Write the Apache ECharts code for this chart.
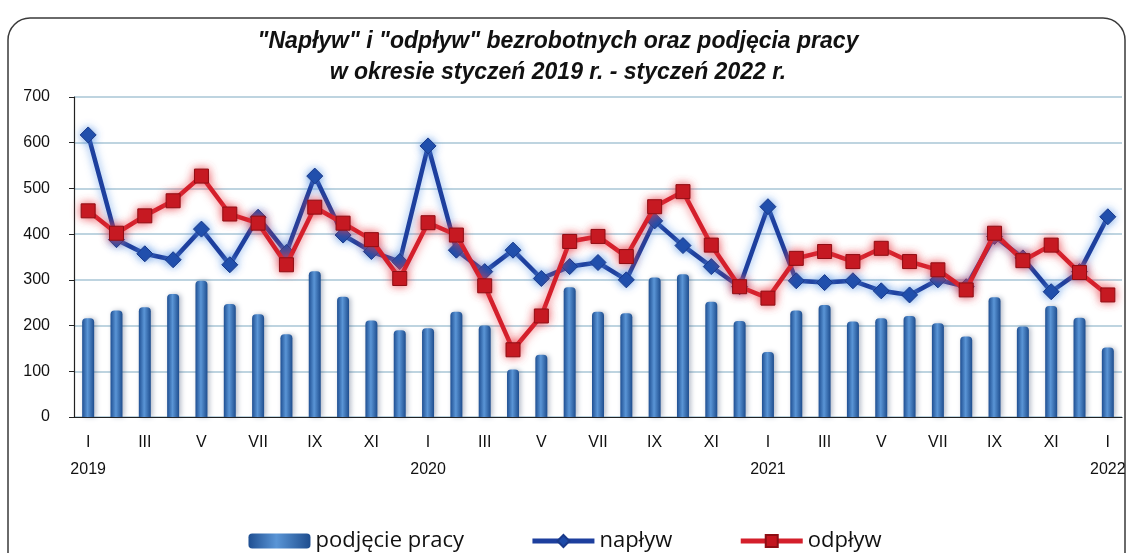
<!DOCTYPE html>
<html><head><meta charset="utf-8">
<script src="https://cdn.jsdelivr.net/npm/echarts@6/dist/echarts.min.js"></script>
<style>html,body{margin:0;padding:0;background:#fff}#c{width:1130px;height:553px}</style>
</head><body><div id="c"></div>
<script>
const roman = ['I','II','III','IV','V','VI','VII','VIII','IX','X','XI','XII'];
const years = ['2019','2020','2021','2022'];
const categories = [];
for (let i = 0; i < 37; i++) categories.push(roman[i % 12] + (i % 12 === 0 ? '\n' + years[i / 12] : ''));
const podjecie = [216,233,240,269,298,247,225,181,319,263,211,190,194,
  230,200,104,136,284,230,227,305,312,252,210,142,
  233,245,209,216,221,205,176,262,198,243,217,152];
const naplyw = [617,388,357,344,411,333,437,360,527,398,362,340,593,
  365,318,365,303,329,338,300,429,375,329,285,460,
  298,294,298,276,267,300,285,395,348,274,318,438];
const odplyw = [451,402,440,473,527,444,424,333,459,424,388,303,425,
  398,287,147,221,384,395,351,460,493,376,285,260,
  347,362,340,369,340,322,278,402,342,376,316,267];

const chart = echarts.init(document.getElementById('c'));
const font = "'Liberation Sans',sans-serif";
chart.setOption({
  animation: false,
  backgroundColor: '#fff',
  graphic: [{
    type: 'rect', shape: {x: 8, y: 18, width: 1117, height: 560, r: 22},
    style: {fill: 'none', stroke: '#3a3a3a', lineWidth: 1.5}, z: -1
  }],
  title: {
    text: '"Napływ" i "odpływ" bezrobotnych oraz podjęcia pracy\nw okresie styczeń 2019 r. - styczeń 2022 r.',
    left: 553, textAlign: 'center', top: 21,
    textStyle: {fontFamily: font, fontSize: 23, fontWeight: 'bold', fontStyle: 'italic', color: '#111', lineHeight: 31}
  },
  grid: {left: 74, right: 8, top: 97, bottom: 136, containLabel: false},
  legend: {
    bottom: -4, left: 'center', itemGap: 66, itemWidth: 62, itemHeight: 15,
    lineStyle: {width: 5},
    textStyle: {fontFamily: "'Open Sans',sans-serif", fontSize: 22, color: '#111'},
    data: [
      {name: 'podjęcie pracy', icon: 'roundRect', itemStyle: {shadowBlur: 0}},
      {name: 'napływ'},
      {name: 'odpływ'}
    ]
  },
  xAxis: {
    type: 'category', data: categories, boundaryGap: true,
    axisLine: {lineStyle: {color: '#222', width: 1.2}},
    axisTick: {interval: 0, length: 6, lineStyle: {color: '#222'}},
    axisLabel: {interval: 1, fontFamily: font, fontSize: 16, color: '#111', lineHeight: 27, margin: 12}
  },
  yAxis: {
    type: 'value', min: 0, max: 700, interval: 100,
    axisLine: {show: true, lineStyle: {color: '#222', width: 1.2}},
    axisTick: {show: true, length: 5, lineStyle: {color: '#222'}},
    axisLabel: {fontFamily: font, fontSize: 16, color: '#111', margin: 24},
    splitLine: {lineStyle: {color: '#a9c6d6', width: 1.5}}
  },
  series: [
    {
      name: 'podjęcie pracy', type: 'bar', data: podjecie, barWidth: 12, z: 1,
      itemStyle: {
        color: new echarts.graphic.LinearGradient(0, 0, 1, 0, [
          {offset: 0, color: '#1f4f92'}, {offset: 0.45, color: '#5a95d6'}, {offset: 1, color: '#1e4d8e'}
        ]),
        borderRadius: [4, 4, 0, 0],
        shadowColor: 'rgba(40,60,100,0.35)', shadowBlur: 5, shadowOffsetX: 2, shadowOffsetY: 0
      }
    },
    {
      name: 'napływ', type: 'line', data: naplyw, z: 3,
      symbol: 'diamond', symbolSize: 16,
      lineStyle: {color: '#1d3f9e', width: 4.5, shadowColor: 'rgba(90,150,230,0.8)', shadowBlur: 8},
      itemStyle: {color: '#1d4aa8', borderColor: '#1a3a8a', borderWidth: 1, shadowColor: 'rgba(90,150,230,0.8)', shadowBlur: 8}
    },
    {
      name: 'odpływ', type: 'line', data: odplyw, z: 4,
      symbol: 'rect', symbolSize: 14,
      lineStyle: {color: '#d41f2b', width: 4.5, shadowColor: 'rgba(235,60,70,0.8)', shadowBlur: 10},
      itemStyle: {color: '#c3161f', borderColor: '#8e0e14', borderWidth: 1, shadowColor: 'rgba(235,60,70,0.8)', shadowBlur: 10}
    }
  ]
});
</script></body></html>
